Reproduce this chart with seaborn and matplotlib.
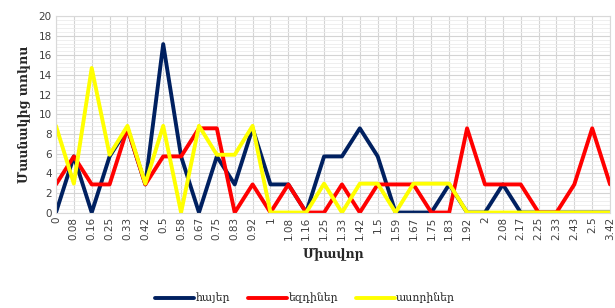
import numpy as np
import pandas as pd
import matplotlib
matplotlib.use("Agg")
import matplotlib.pyplot as plt
import seaborn as sns
from matplotlib.ticker import MultipleLocator

categories = ["0", "0.08", "0.16", "0.25", "0.33", "0.42", "0.5", "0.58", "0.67", "0.75",
              "0.83", "0.92", "1", "1.08", "1.16", "1.25", "1.33", "1.42", "1.5", "1.59",
              "1.67", "1.75", "1.83", "1.92", "2", "2.08", "2.17", "2.25", "2.33", "2.43",
              "2.5", "3.42"]

hayer = [0, 5.71, 0, 5.71, 8.57, 2.86, 17.14, 5.71, 0, 5.71,
         2.86, 8.57, 2.86, 2.86, 0, 5.71, 5.71, 8.57, 5.71, 0,
         0, 0, 2.86, 0, 0, 2.86, 0, 0, 0, 0,
         0, 0]
ezdiner = [2.86, 5.71, 2.86, 2.86, 8.57, 2.86, 5.71, 5.71, 8.57, 8.57,
           0, 2.86, 0, 2.86, 0, 0, 2.86, 0, 2.86, 2.86,
           2.86, 0, 0, 8.57, 2.86, 2.86, 2.86, 0, 0, 2.86,
           8.57, 2.86]
asoriner = [8.82, 2.94, 14.71, 5.88, 8.82, 2.94, 8.82, 0, 8.82, 5.88,
            5.88, 8.82, 0, 0, 0, 2.94, 0, 2.94, 2.94, 0,
            2.94, 2.94, 2.94, 0, 0, 0, 0, 0, 0, 0,
            0, 0]

series_names = ["հայեր", "եզդիներ", "ասորիներ"]
colors = ["#002060", "#FF0000", "#FFFF00"]

pos = np.arange(len(categories))
df = pd.concat([
    pd.DataFrame({"pos": pos, "value": vals, "group": name})
    for name, vals in zip(series_names, [hayer, ezdiner, asoriner])
])

sns.set_style("white")
plt.rcParams["font.family"] = ["DejaVu Sans"]

fig, ax = plt.subplots(figsize=(6.15, 3.08), dpi=100)
fig.subplots_adjust(left=0.091, right=0.992, top=0.948, bottom=0.31)

sns.lineplot(data=df, x="pos", y="value", hue="group", palette=colors,
             hue_order=series_names, linewidth=2.8, ax=ax, sort=False)

ax.set_xlim(0, len(categories) - 1)
ax.set_ylim(0, 20)
ax.set_xticks(pos)
ax.set_xticklabels(categories, rotation=90, fontsize=7.5, color="#404040")
ax.yaxis.set_major_locator(MultipleLocator(2))
ax.yaxis.set_minor_locator(MultipleLocator(0.4))
ax.tick_params(axis="y", labelsize=7.5, colors="#404040", length=0, pad=3)
ax.tick_params(axis="x", length=0, pad=3)
ax.grid(True, which="major", color="#d4d4d4", linewidth=0.8)
ax.grid(True, which="minor", axis="y", color="#ececec", linewidth=0.6)
ax.set_axisbelow(True)
for s in ax.spines.values():
    s.set_color("#d9d9d9")
    s.set_linewidth(0.8)

serif = ["DejaVu Serif", "DejaVu Sans"]
ax.set_ylabel("Մասնակից տոկոս", fontsize=9, fontweight="bold", family=serif, labelpad=6)
ax.set_xlabel("Միավոր", fontsize=9, fontweight="bold", family=serif, labelpad=6)

ax.legend(loc="center", bbox_to_anchor=(0.45, -0.435), ncol=3, frameon=False,
          handlelength=3.6, columnspacing=1.6, handletextpad=0.15,
          prop={"family": serif, "size": 7.8})

fig.savefig("out.png", dpi=100)
